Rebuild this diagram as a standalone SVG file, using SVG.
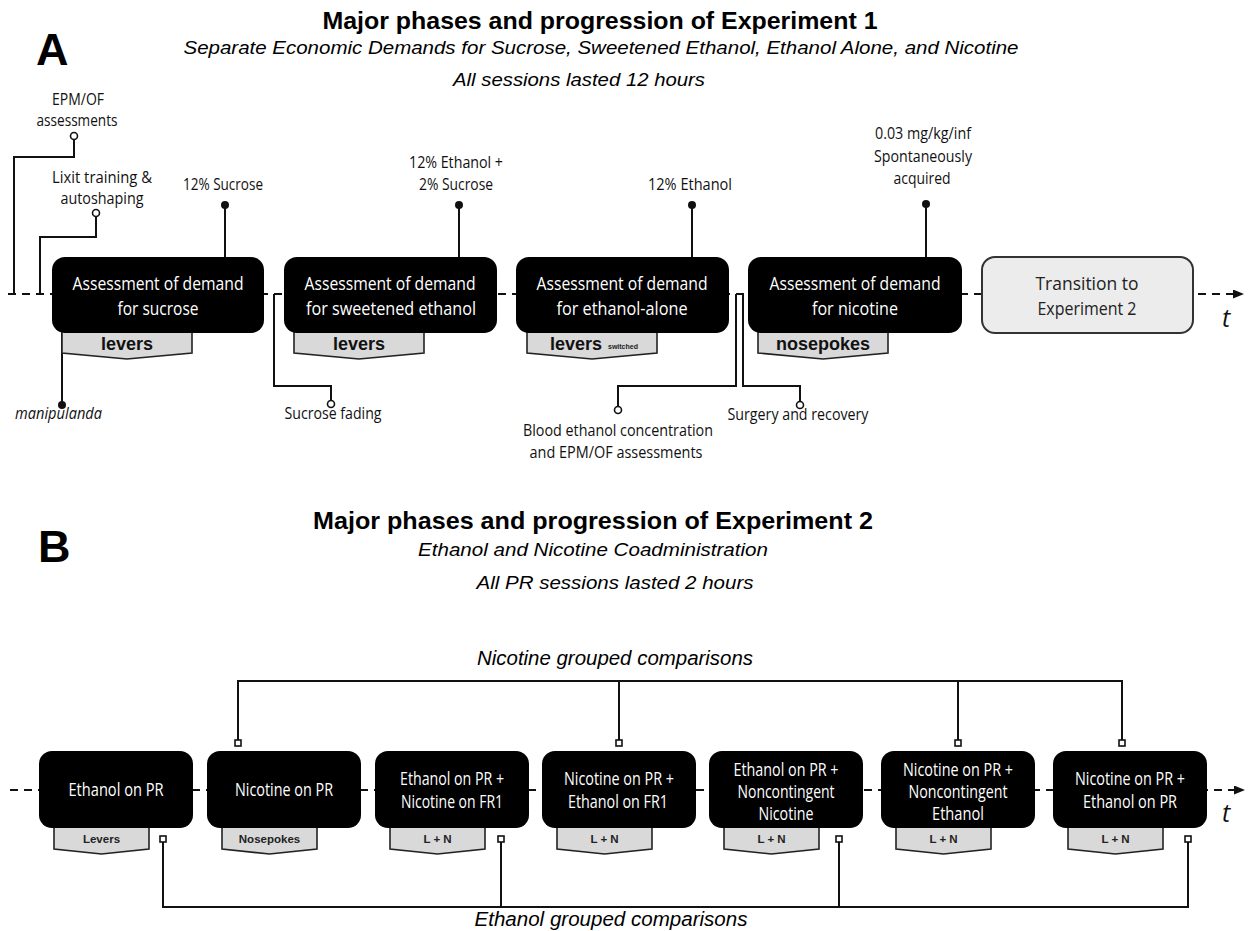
<svg xmlns="http://www.w3.org/2000/svg" width="1252" height="931" viewBox="0 0 1252 931">
<style>
.u{font-family:'Open Sans','Noto Sans','DejaVu Sans',sans-serif}
.ar{font-family:'Liberation Sans',Arial,sans-serif}
.bx{font-size:18.2px;fill:#fff;text-anchor:middle}
.bx2{font-size:17.5px;fill:#fff;text-anchor:middle}
.lb{font-size:17px;fill:#111;text-anchor:middle}
.box{fill:#000}
.tab{fill:#d9d9d9;stroke:#222;stroke-width:1.6}
.tl{font-weight:bold;font-size:18px;fill:#111;text-anchor:middle}
.tl2{font-weight:bold;font-size:11.5px;fill:#222;text-anchor:middle}
.ln{fill:none;stroke:#111;stroke-width:2}
.dash{fill:none;stroke:#111;stroke-width:2;stroke-dasharray:8 6}
.dot{fill:#111}
.oc{fill:#fff;stroke:#111;stroke-width:1.6}
.sq{fill:#fff;stroke:#111;stroke-width:1.6}
.it{font-style:italic}
</style>
<defs>
<marker id="arr" markerUnits="userSpaceOnUse" markerWidth="12" markerHeight="10" refX="1" refY="4.5" orient="auto">
<path d="M0,0 L11,4.5 L0,9 Z" fill="#111"/>
</marker>
</defs>
<rect width="1252" height="931" fill="#fff"/>

<!-- Panel A headings -->
<g id="headA">
<text class="ar" x="36" y="65" font-size="45" font-weight="bold" fill="#000">A</text>
<text class="ar" x="600" y="29" font-size="24" font-weight="bold" text-anchor="middle" textLength="555" lengthAdjust="spacingAndGlyphs">Major phases and progression of Experiment 1</text>
<text class="ar it" x="601" y="54" font-size="18.5" text-anchor="middle" textLength="835" lengthAdjust="spacingAndGlyphs">Separate Economic Demands for Sucrose, Sweetened Ethanol, Ethanol Alone, and Nicotine</text>
<text class="ar it" x="579" y="86" font-size="18.5" text-anchor="middle" textLength="252" lengthAdjust="spacingAndGlyphs">All sessions lasted 12 hours</text>
</g>

<!-- Panel A connectors -->
<g id="connectorsA">
<path class="dash" d="M8,294 H1234" marker-end="url(#arr)"/>
<path class="ln" d="M74,140 V157 H14 V295"/>
<path class="ln" d="M96,217 V237 H40 V295"/>
<path class="ln" d="M225,205 V257"/>
<path class="ln" d="M459,205 V257"/>
<path class="ln" d="M692,205 V257"/>
<path class="ln" d="M926,204 V257"/>
<path class="ln" d="M62,333 V405"/>
<path class="ln" d="M274,294 V386 H331 V401"/>
<path class="ln" d="M736,294 V386 H618 V407"/>
<path class="ln" d="M743,294 V386 H800 V402"/>
<circle class="oc" cx="74" cy="136" r="3.5"/>
<circle class="oc" cx="96" cy="213" r="3.5"/>
<circle class="dot" cx="225" cy="205" r="4"/>
<circle class="dot" cx="459" cy="205" r="4"/>
<circle class="dot" cx="692" cy="205" r="4"/>
<circle class="dot" cx="926" cy="204" r="4"/>
<circle class="dot" cx="62" cy="405" r="4"/>
<circle class="oc" cx="331" cy="404" r="3.5"/>
<circle class="oc" cx="618" cy="410" r="3.5"/>
<circle class="oc" cx="800" cy="405" r="3.5"/>
<text class="u it" x="1222" y="327" font-size="25" fill="#111">t</text>
</g>

<!-- Panel A labels -->
<g id="labelsA" class="u">
<text class="lb" x="78" y="105" textLength="52" lengthAdjust="spacingAndGlyphs">EPM/OF</text>
<text class="lb" x="77" y="126" textLength="81" lengthAdjust="spacingAndGlyphs">assessments</text>
<text class="lb" x="102" y="183" textLength="100" lengthAdjust="spacingAndGlyphs">Lixit training &amp;</text>
<text class="lb" x="102" y="204" textLength="83" lengthAdjust="spacingAndGlyphs">autoshaping</text>
<text class="lb" x="223" y="190" textLength="80" lengthAdjust="spacingAndGlyphs">12% Sucrose</text>
<text class="lb" x="456" y="168" textLength="94" lengthAdjust="spacingAndGlyphs">12% Ethanol +</text>
<text class="lb" x="456" y="190" textLength="74" lengthAdjust="spacingAndGlyphs">2% Sucrose</text>
<text class="lb" x="690" y="190" textLength="84" lengthAdjust="spacingAndGlyphs">12% Ethanol</text>
<text class="lb" x="923" y="139" textLength="96" lengthAdjust="spacingAndGlyphs">0.03 mg/kg/inf</text>
<text class="lb" x="923" y="162" textLength="98" lengthAdjust="spacingAndGlyphs">Spontaneously</text>
<text class="lb" x="922" y="184" textLength="57" lengthAdjust="spacingAndGlyphs">acquired</text>
<text class="lb it" x="15" y="419" textLength="87" lengthAdjust="spacingAndGlyphs" style="text-anchor:start">manipulanda</text>
<text class="lb" x="333" y="419" textLength="97" lengthAdjust="spacingAndGlyphs">Sucrose fading</text>
<text class="lb" x="618" y="436" textLength="190" lengthAdjust="spacingAndGlyphs">Blood ethanol concentration</text>
<text class="lb" x="616" y="458" textLength="173" lengthAdjust="spacingAndGlyphs">and EPM/OF assessments</text>
<text class="lb" x="798" y="420" textLength="141" lengthAdjust="spacingAndGlyphs">Surgery and recovery</text>
</g>

<!-- Panel A nodes -->
<g id="a-sucrose">
<path class="tab" d="M62,330 V353 L127,359 L192,353 V330 Z"/>
<rect class="box" x="52" y="257" width="212" height="76" rx="13"/>
<text class="u bx" x="158" y="290" textLength="171" lengthAdjust="spacingAndGlyphs">Assessment of demand</text>
<text class="u bx" x="158" y="315" textLength="81" lengthAdjust="spacingAndGlyphs">for sucrose</text>
<text class="ar tl" x="127" y="350">levers</text>
</g>
<g id="a-sweetened">
<path class="tab" d="M294,330 V353 L359,359 L424,353 V330 Z"/>
<rect class="box" x="284" y="257" width="213" height="76" rx="13"/>
<text class="u bx" x="390" y="290" textLength="171" lengthAdjust="spacingAndGlyphs">Assessment of demand</text>
<text class="u bx" x="391" y="315" textLength="170" lengthAdjust="spacingAndGlyphs">for sweetened ethanol</text>
<text class="ar tl" x="359" y="350">levers</text>
</g>
<g id="a-ethanol">
<path class="tab" d="M527,330 V353 L592,359 L657,353 V330 Z"/>
<rect class="box" x="516" y="257" width="213" height="76" rx="13"/>
<text class="u bx" x="622" y="290" textLength="171" lengthAdjust="spacingAndGlyphs">Assessment of demand</text>
<text class="u bx" x="622" y="315" textLength="131" lengthAdjust="spacingAndGlyphs">for ethanol-alone</text>
<text class="ar tl" x="550" y="350" style="text-anchor:start">levers</text>
<text class="ar" x="608" y="349" font-size="7" font-weight="bold" fill="#222">switched</text>
</g>
<g id="a-nicotine">
<path class="tab" d="M758,330 V353 L823,359 L888,353 V330 Z"/>
<rect class="box" x="748" y="257" width="214" height="76" rx="13"/>
<text class="u bx" x="855" y="290" textLength="171" lengthAdjust="spacingAndGlyphs">Assessment of demand</text>
<text class="u bx" x="855" y="315" textLength="86" lengthAdjust="spacingAndGlyphs">for nicotine</text>
<text class="ar tl" x="823" y="350">nosepokes</text>
</g>
<g id="a-transition">
<rect x="982" y="257" width="211" height="76" rx="13" fill="#ececec" stroke="#333" stroke-width="2"/>
<text class="u bx" x="1087" y="290" style="fill:#222" textLength="103" lengthAdjust="spacingAndGlyphs">Transition to</text>
<text class="u bx" x="1087" y="315" style="fill:#222" textLength="99" lengthAdjust="spacingAndGlyphs">Experiment 2</text>
</g>

<!-- Panel B headings -->
<g id="headB">
<text class="ar" x="38" y="562" font-size="45" font-weight="bold" fill="#000">B</text>
<text class="ar" x="313" y="529" font-size="24" font-weight="bold" textLength="560" lengthAdjust="spacingAndGlyphs">Major phases and progression of Experiment 2</text>
<text class="ar it" x="593" y="556" font-size="18.5" text-anchor="middle" textLength="350" lengthAdjust="spacingAndGlyphs">Ethanol and Nicotine Coadministration</text>
<text class="ar it" x="615" y="589" font-size="18.5" text-anchor="middle" textLength="277" lengthAdjust="spacingAndGlyphs">All PR sessions lasted 2 hours</text>
<text class="ar it" x="615" y="665" font-size="20.5" text-anchor="middle" textLength="276" lengthAdjust="spacingAndGlyphs">Nicotine grouped comparisons</text>
<text class="ar it" x="611" y="926" font-size="20.5" text-anchor="middle" textLength="273" lengthAdjust="spacingAndGlyphs">Ethanol grouped comparisons</text>
</g>

<!-- Panel B connectors -->
<g id="connectorsB">
<path class="dash" d="M10,790 H1235" marker-end="url(#arr)"/>
<path class="ln" d="M238,740 V681 H1122 V740"/>
<path class="ln" d="M619,681 V740"/>
<path class="ln" d="M958,681 V740"/>
<path class="ln" d="M163,842 V907 H1188 V842"/>
<path class="ln" d="M501,842 V907"/>
<path class="ln" d="M839,842 V907"/>
<rect class="sq" x="235" y="740" width="6" height="6"/>
<rect class="sq" x="616" y="740" width="6" height="6"/>
<rect class="sq" x="955" y="740" width="6" height="6"/>
<rect class="sq" x="1119" y="740" width="6" height="6"/>
<rect class="sq" x="160" y="836" width="6" height="6"/>
<rect class="sq" x="498" y="836" width="6" height="6"/>
<rect class="sq" x="836" y="836" width="6" height="6"/>
<rect class="sq" x="1185" y="836" width="6" height="6"/>
<text class="u it" x="1222" y="822" font-size="25" fill="#111">t</text>
</g>

<!-- Panel B nodes -->
<g id="b1">
<path class="tab" d="M54,826 V849 L101.5,854 L149,849 V826 Z"/>
<rect class="box" x="39" y="751" width="154" height="77" rx="13"/>
<text class="u bx2" x="116" y="796" textLength="95" lengthAdjust="spacingAndGlyphs">Ethanol on PR</text>
<text class="ar tl2" x="101.5" y="843">Levers</text>
</g>
<g id="b2">
<path class="tab" d="M222,826 V849 L269.5,854 L317,849 V826 Z"/>
<rect class="box" x="207" y="751" width="154" height="77" rx="13"/>
<text class="u bx2" x="284" y="796" textLength="98" lengthAdjust="spacingAndGlyphs">Nicotine on PR</text>
<text class="ar tl2" x="269.5" y="843">Nosepokes</text>
</g>
<g id="b3">
<path class="tab" d="M390,826 V849 L437.5,854 L485,849 V826 Z"/>
<rect class="box" x="375" y="751" width="154" height="77" rx="13"/>
<text class="u bx2" x="452" y="785" textLength="104" lengthAdjust="spacingAndGlyphs">Ethanol on PR +</text>
<text class="u bx2" x="452" y="808" textLength="102" lengthAdjust="spacingAndGlyphs">Nicotine on FR1</text>
<text class="ar tl2" x="437.5" y="843">L + N</text>
</g>
<g id="b4">
<path class="tab" d="M557,826 V849 L604.5,854 L652,849 V826 Z"/>
<rect class="box" x="542" y="751" width="154" height="77" rx="13"/>
<text class="u bx2" x="619" y="785" textLength="110" lengthAdjust="spacingAndGlyphs">Nicotine on PR +</text>
<text class="u bx2" x="618" y="808" textLength="100" lengthAdjust="spacingAndGlyphs">Ethanol on FR1</text>
<text class="ar tl2" x="604.5" y="843">L + N</text>
</g>
<g id="b5">
<path class="tab" d="M724,826 V849 L771.5,854 L819,849 V826 Z"/>
<rect class="box" x="709" y="751" width="154" height="77" rx="13"/>
<text class="u bx2" x="786" y="776" textLength="105" lengthAdjust="spacingAndGlyphs">Ethanol on PR +</text>
<text class="u bx2" x="786" y="798" textLength="97" lengthAdjust="spacingAndGlyphs">Noncontingent</text>
<text class="u bx2" x="786" y="820" textLength="55" lengthAdjust="spacingAndGlyphs">Nicotine</text>
<text class="ar tl2" x="771.5" y="843">L + N</text>
</g>
<g id="b6">
<path class="tab" d="M896,826 V849 L943.5,854 L991,849 V826 Z"/>
<rect class="box" x="881" y="751" width="154" height="77" rx="13"/>
<text class="u bx2" x="958" y="776" textLength="110" lengthAdjust="spacingAndGlyphs">Nicotine on PR +</text>
<text class="u bx2" x="958" y="798" textLength="99" lengthAdjust="spacingAndGlyphs">Noncontingent</text>
<text class="u bx2" x="958" y="820" textLength="52" lengthAdjust="spacingAndGlyphs">Ethanol</text>
<text class="ar tl2" x="943.5" y="843">L + N</text>
</g>
<g id="b7">
<path class="tab" d="M1068,826 V849 L1115.5,854 L1163,849 V826 Z"/>
<rect class="box" x="1053" y="751" width="154" height="77" rx="13"/>
<text class="u bx2" x="1130" y="785" textLength="110" lengthAdjust="spacingAndGlyphs">Nicotine on PR +</text>
<text class="u bx2" x="1130" y="808" textLength="94" lengthAdjust="spacingAndGlyphs">Ethanol on PR</text>
<text class="ar tl2" x="1115.5" y="843">L + N</text>
</g>
</svg>
